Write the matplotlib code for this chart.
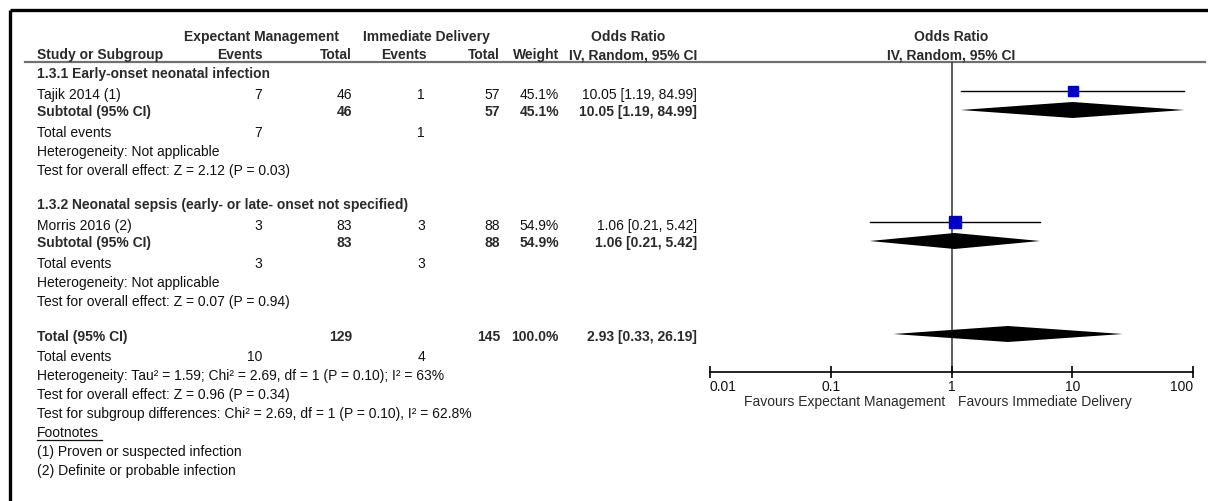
import matplotlib
matplotlib.use("Agg")
import matplotlib.pyplot as plt
import numpy as np

plt.rcParams['font.family'] = ['Liberation Sans', 'DejaVu Sans']

# ---- data ----
groups = ["1.3.1 Early-onset neonatal infection",
          "1.3.2 Neonatal sepsis (early- or late- onset not specified)"]
studies = ["Tajik 2014 (1)", "Morris 2016 (2)"]
exp_events = [7, 3]
exp_total = [46, 83]
imm_events = [1, 3]
imm_total = [57, 88]
weights = [45.1, 54.9]
odds = [10.05, 1.06]
ci_low = [1.19, 0.21]
ci_high = [84.99, 5.42]
overall_z = ["Z = 2.12 (P = 0.03)", "Z = 0.07 (P = 0.94)"]

total_exp = 129
total_imm = 145
total_exp_events = 10
total_imm_events = 4
total_or = 2.93
total_low = 0.33
total_high = 26.19

ticks = [0.01, 0.1, 1, 10, 100]
tick_labels = ["0.01", "0.1", "1", "10", "100"]
footnotes = ["(1) Proven or suspected infection", "(2) Definite or probable infection"]

W, H = 1208, 502
fig = plt.figure(figsize=(W / 100, H / 100), dpi=100)
ax = fig.add_axes([0, 0, 1, 1])
ax.set_xlim(0, W)
ax.set_ylim(H, 0)
ax.axis("off")

fs = 10
txt = "#111111"
hdr = "#2a2a2a"

# frame
ax.plot([10, W], [11, 11], color="black", lw=2.4, solid_capstyle="butt")
ax.plot([10, 10], [11, H], color="black", lw=2.4, solid_capstyle="butt")
# header rule
ax.plot([25, 1205], [63, 63], color="#707070", lw=1.6)

# column positions (right edges)
c_study = 37
c_ee, c_et, c_ie, c_it, c_w, c_or = 262, 352, 425, 500, 559, 697


def t(x, y, s, ha="left", bold=False, color=txt):
    ax.text(x, y + 2, s, ha=ha, va="center", fontsize=fs,
            fontweight="bold" if bold else "normal", color=color)


# headers
t(262, 35, "Expectant Management", ha="center", bold=True, color=hdr)
t(426, 35, "Immediate Delivery", ha="center", bold=True, color=hdr)
t(628, 35, "Odds Ratio", ha="center", bold=True, color=hdr)
t(951, 35, "Odds Ratio", ha="center", bold=True, color=hdr)
t(c_study, 53, "Study or Subgroup", bold=True, color=hdr)
t(240, 53, "Events", ha="center", bold=True, color=hdr)
t(c_et, 53, "Total", ha="right", bold=True, color=hdr)
t(404, 53, "Events", ha="center", bold=True, color=hdr)
t(c_it, 53, "Total", ha="right", bold=True, color=hdr)
t(c_w, 53, "Weight", ha="right", bold=True, color=hdr)
t(c_or, 53, "IV, Random, 95% CI", ha="right", bold=True, color=hdr)
t(951, 53, "IV, Random, 95% CI", ha="center", bold=True, color=hdr)

# row layout per subgroup (pixel rows)
group_rows = [72, 203]
rows = []
for i in range(len(studies)):
    g = group_rows[i]
    y_study = g + 21
    y_sub = g + 38
    t(c_study, g, groups[i], bold=True, color=hdr)
    t(c_study, y_study, studies[i])
    t(c_ee, y_study, str(exp_events[i]), ha="right")
    t(c_et, y_study, str(exp_total[i]), ha="right")
    t(c_ie, y_study, str(imm_events[i]), ha="right")
    t(c_it, y_study, str(imm_total[i]), ha="right")
    t(c_w, y_study, f"{weights[i]:.1f}%", ha="right")
    t(c_or, y_study, f"{odds[i]:.2f} [{ci_low[i]:.2f}, {ci_high[i]:.2f}]", ha="right")
    t(c_study, y_sub, "Subtotal (95% CI)", bold=True, color=hdr)
    t(c_et, y_sub, str(exp_total[i]), ha="right", bold=True, color=hdr)
    t(c_it, y_sub, str(imm_total[i]), ha="right", bold=True, color=hdr)
    t(c_w, y_sub, f"{weights[i]:.1f}%", ha="right", bold=True, color=hdr)
    t(c_or, y_sub, f"{odds[i]:.2f} [{ci_low[i]:.2f}, {ci_high[i]:.2f}]",
      ha="right", bold=True, color=hdr)
    t(c_study, g + 59, "Total events")
    t(c_ee, g + 59, str(exp_events[i]), ha="right")
    t(c_ie, g + 59, str(imm_events[i]), ha="right")
    t(c_study, g + 78, "Heterogeneity: Not applicable")
    t(c_study, g + 97, "Test for overall effect: " + overall_z[i])
    rows.append((y_study - 1, y_sub + 1))

# overall
y_tot = 335
t(c_study, y_tot, "Total (95% CI)", bold=True, color=hdr)
t(c_et, y_tot, str(total_exp), ha="right", bold=True, color=hdr)
t(c_it, y_tot, str(total_imm), ha="right", bold=True, color=hdr)
t(c_w, y_tot, f"{sum(weights):.1f}%", ha="right", bold=True, color=hdr)
t(c_or, y_tot, f"{total_or:.2f} [{total_low:.2f}, {total_high:.2f}]",
  ha="right", bold=True, color=hdr)
t(c_study, 355, "Total events")
t(c_ee, 355, str(total_exp_events), ha="right")
t(c_ie, 355, str(total_imm_events), ha="right")
t(c_study, 374, "Heterogeneity: Tau² = 1.59; Chi² = 2.69, df = 1 (P = 0.10); I² = 63%")
t(c_study, 393, "Test for overall effect: Z = 0.96 (P = 0.34)")
t(c_study, 412, "Test for subgroup differences: Chi² = 2.69, df = 1 (P = 0.10), I² = 62.8%")
t(c_study, 431, "Footnotes")
ax.plot([c_study, c_study + 65], [441, 441], color=txt, lw=0.9)
t(c_study, 450, footnotes[0])
t(c_study, 469, footnotes[1])

# ---- forest panel ----
x0, x1 = 710, 1193
y_top, y_axis = 63, 373
fax = fig.add_axes([x0 / W, 1 - y_axis / H, (x1 - x0) / W, (y_axis - y_top) / H])
fax.set_xscale("log")
fax.set_xlim(ticks[0], ticks[-1])
fax.set_ylim(y_axis, y_top)
fax.patch.set_alpha(0)
for s in ["top", "left", "right"]:
    fax.spines[s].set_visible(False)
fax.spines["bottom"].set_linewidth(1.2)
fax.set_yticks([])
fax.set_xticks(ticks)
fax.set_xticklabels(tick_labels, fontsize=fs, color=txt)
fax.xaxis.set_minor_locator(matplotlib.ticker.NullLocator())
fax.tick_params(axis="x", direction="inout", length=8, width=1.2, pad=1)
lbls = fax.get_xticklabels()
lbls[0].set_ha("left")
lbls[-1].set_ha("right")

fax.axvline(1, color="#333333", lw=1.1, zorder=1)


def diamond(est, lo, hi, y, h=8):
    fax.fill([lo, est, hi, est], [y, y - h, y, y + h], color="black", lw=0, zorder=3)


for i, (ys, ysub) in enumerate(rows):
    fax.plot([ci_low[i], ci_high[i]], [ys, ys], color="black", lw=1.0, zorder=2)
    side = 15.5 * np.sqrt(weights[i] / 100)
    fax.plot([odds[i]], [ys], marker="s", ms=side * 0.72, color="#0000c8",
             mec="#0000c8", lw=0, zorder=4)
    diamond(odds[i], ci_low[i], ci_high[i], ysub)
diamond(total_or, total_low, total_high, 335)

t(945, 400, "Favours Expectant Management", ha="right", color=hdr)
t(958, 400, "Favours Immediate Delivery", color=hdr)

fig.savefig("out.png", dpi=100)
